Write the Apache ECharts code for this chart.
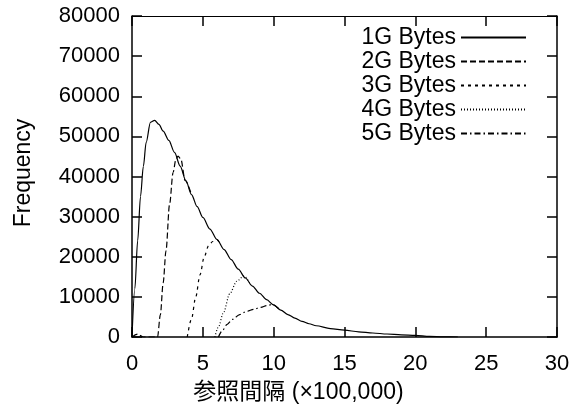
<!DOCTYPE html>
<html>
<head>
<meta charset="utf-8">
<script src="https://cdn.jsdelivr.net/npm/echarts@6/dist/echarts.min.js"></script>
<style>
  html, body { margin: 0; padding: 0; background: #fff; }
  #chart { width: 577px; height: 412px; }
</style>
</head>
<body>
<div id="chart"></div>
<script>
// values (x in units of 100,000)
var names = ['1G Bytes', '2G Bytes', '3G Bytes', '4G Bytes', '5G Bytes'];

var x1G = [0, 0.2, 0.4, 0.6, 0.8, 1.0, 1.3, 1.6, 1.9, 2.2, 2.6, 3.0, 3.4, 3.8, 4.2, 4.6, 5.0, 5.5, 6.0, 6.5, 7.0, 7.5, 8.0, 8.5, 9.0, 9.5, 10.0, 10.5, 11.0, 11.5, 12.0, 12.5, 13.0, 14.0, 15.0, 16.0, 17.0, 18.0, 19.0, 20.0, 21.0, 22.0, 23.0];
var y1G = [0, 12000, 24000, 35000, 42500, 48500, 53500, 54000, 53000, 51300, 49000, 46000, 42600, 39000, 35500, 32500, 29800, 26900, 24300, 21800, 19300, 16900, 14700, 12700, 10900, 9300, 8000, 6700, 5600, 4700, 3900, 3300, 2800, 2100, 1700, 1300, 1000, 750, 550, 400, 150, 30, 0];

var x2G = [0, 0.4, 0.8, 1.8, 2.0, 2.2, 2.4, 2.65, 2.9, 3.1, 3.25, 3.45, 3.75, 4.2];
var y2G = [0, 700, 0, 0, 5500, 13500, 21500, 33000, 41000, 44300, 45100, 44300, 39000, 35500];

var x3G = [3.9, 4.2, 4.5, 4.8, 5.1, 5.4, 5.7, 6.0, 6.3];
var y3G = [0, 4500, 10000, 15500, 20000, 22700, 23800, 24200, 22800];

var x4G = [5.85, 6.1, 6.45, 6.9, 7.4, 7.9, 8.3];
var y4G = [0, 2500, 6000, 10800, 13900, 15200, 13500];

var x5G = [6.1, 6.4, 6.7, 7.1, 7.6, 8.1, 8.6, 9.1, 9.5, 9.9, 10.4];
var y5G = [0, 1700, 3100, 4400, 5600, 6400, 6900, 7400, 7800, 8100, 6950];

var lineDashes = ['solid', [6, 3], [3, 4], [1, 2], [6, 3, 1.5, 3]];

function pairs(xs, ys) {
    return xs.map(function (x, i) { return [x, ys[i]]; });
}

var FONT = "'Liberation Sans', 'Noto Sans CJK JP', sans-serif";
var chart = echarts.init(document.getElementById('chart'));

var allData = [pairs(x1G, y1G), pairs(x2G, y2G), pairs(x3G, y3G), pairs(x4G, y4G), pairs(x5G, y5G)];

var series = names.map(function (name, i) {
    return {
        name: name,
        type: 'line',
        data: allData[i],
        symbol: 'none',
        smooth: 0.3,
        smoothMonotone: 'x',
        z: 10 - i,
        lineStyle: { color: '#000', width: 1.2, type: lineDashes[i] },
        itemStyle: { color: '#000' }
    };
});

function ticks() {
    return { show: true, inside: true, length: 10, lineStyle: { color: '#000', width: 1.5 } };
}
function line(w) {
    return { show: true, onZero: false, lineStyle: { color: '#000', width: w } };
}

chart.setOption({
    animation: false,
    backgroundColor: '#fff',
    grid: { left: 132, right: 20, top: 16, bottom: 75 },
    legend: {
        data: names,
        orient: 'vertical',
        align: 'right',
        right: 45,
        top: 21,
        itemWidth: 65,
        itemHeight: 14,
        itemGap: 1,
        itemStyle: { opacity: 0 },
        textStyle: { fontFamily: FONT, fontSize: 23, lineHeight: 23, color: '#000' }
    },
    xAxis: [{
        type: 'value',
        min: 0, max: 30, interval: 5,
        name: '参照間隔 (×100,000)',
        nameLocation: 'middle',
        nameGap: 44,
        nameTextStyle: { fontFamily: FONT, fontSize: 23, color: '#000', padding: [0, 92, 0, 0] },
        axisLine: line(1.5),
        axisTick: ticks(),
        axisLabel: { fontFamily: FONT, fontSize: 22, color: '#000', margin: 16 },
        splitLine: { show: false }
    }, {
        type: 'value',
        position: 'top',
        min: 0, max: 30, interval: 5,
        axisLine: line(1),
        axisTick: ticks(),
        axisLabel: { show: false },
        splitLine: { show: false }
    }],
    yAxis: [{
        type: 'value',
        min: 0, max: 80000, interval: 10000,
        name: 'Frequency',
        nameLocation: 'middle',
        nameGap: 97,
        nameTextStyle: { fontFamily: FONT, fontSize: 23, color: '#000', padding: [0, 0, 0, 7] },
        axisLine: line(1.5),
        axisTick: ticks(),
        axisLabel: {
            fontFamily: FONT, fontSize: 22, color: '#000', margin: 12,
            formatter: function (v) { return String(v); }
        },
        splitLine: { show: false }
    }, {
        type: 'value',
        position: 'right',
        min: 0, max: 80000, interval: 10000,
        axisLine: line(1.5),
        axisTick: ticks(),
        axisLabel: { show: false },
        splitLine: { show: false }
    }],
    series: series
});
</script>
</body>
</html>
